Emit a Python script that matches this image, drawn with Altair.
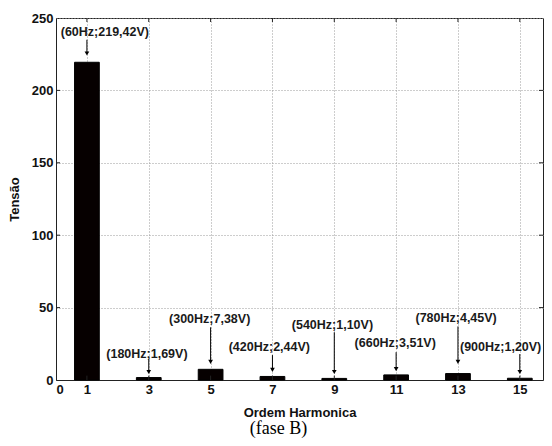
import altair as alt
import pandas as pd

harmonics = [1, 3, 5, 7, 9, 11, 13, 15]
freqs = [60, 180, 300, 420, 540, 660, 780, 900]
volts = [219.42, 1.69, 7.38, 2.44, 1.10, 3.51, 4.45, 1.20]

# annotation layout (data units)
label_x = [1.58, 2.94, 4.97, 6.9, 8.94, 10.97, 12.94, 14.38]
label_y = [240.4, 18.0, 41.9, 22.7, 38.1, 25.4, 42.6, 23.0]
arrow_top = [235, 14.4, 36.4, 17.2, 33.0, 19.2, 37.0, 17.9]
arrow_tip = [225.5, 5.5, 12.5, 7.0, 5.5, 7.5, 12.5, 5.5]

x_ticks = [0, 1, 3, 5, 7, 9, 11, 13, 15]
y_ticks = [0, 50, 100, 150, 200, 250]

labels = [f"({f}Hz;{v:.2f}V)".replace(".", ",") for f, v in zip(freqs, volts)]
df = pd.DataFrame(dict(h=harmonics, v=volts, label=labels, lx=label_x,
                       ly=label_y, at=arrow_top, tip=arrow_tip))
xt = pd.DataFrame(dict(t=x_ticks[1:]))
yt = pd.DataFrame(dict(t=y_ticks[1:-1]))

FONT = "Liberation Sans"
xs = alt.Scale(domain=[0, 15.75], nice=False, zero=False)
ys = alt.Scale(domain=[0, 250], nice=False)

grid_kw = dict(grid=True, gridColor="#9a9a9a", gridDash=[1, 2], gridWidth=1,
               tickSize=0, domainColor="#222", labelFont=FONT,
               labelFontWeight="bold", labelFontSize=13, labelColor="#111",
               titleFont=FONT, titleFontWeight="bold", titleFontSize=13,
               titleColor="#111")

base = alt.Chart(df)
bars = base.transform_calculate(x0="datum.h - 0.4", x1="datum.h + 0.4").mark_bar(
    color="#060000", stroke="#000", strokeWidth=1
).encode(
    x=alt.X("x0:Q", scale=xs,
            axis=alt.Axis(values=x_ticks, title="Ordem Harmonica", labelPadding=3,
                          titlePadding=10, **grid_kw)),
    x2="x1:Q",
    y=alt.Y("v:Q", scale=ys,
            axis=alt.Axis(values=y_ticks, title="Tensão", labelPadding=3,
                          titlePadding=10, **grid_kw)),
    y2=alt.datum(0),
)

arrows = base.mark_rule(color="#000", strokeWidth=1).encode(
    x="h:Q", y="at:Q", y2="tip:Q")
heads = base.mark_point(shape="triangle-down", filled=True, color="#000",
                        size=22, opacity=1).encode(x="h:Q", y="tip:Q")
texts = base.mark_text(font=FONT, fontWeight="bold", fontSize=12.5,
                       color="#1a1a1a").encode(x="lx:Q", y="ly:Q", text="label:N")

tk = dict(color="#222", strokeWidth=1)
xb = alt.Chart(xt).mark_rule(**tk).encode(
    x="t:Q", y=alt.value(0), y2=alt.value(4))
xbb = alt.Chart(xt).mark_rule(**tk).encode(
    x="t:Q", y=alt.Y("z:Q", scale=ys), y2=alt.datum(3.0)
).transform_calculate(z="0")
yl = alt.Chart(yt).mark_rule(**tk).encode(
    y="t:Q", x=alt.X("z:Q", scale=xs), x2=alt.datum(0.13)
).transform_calculate(z="0")
yr = alt.Chart(yt).mark_rule(**tk).encode(
    y="t:Q", x=alt.X("z:Q", scale=xs), x2=alt.datum(15.62)
).transform_calculate(z="15.75")

chart = alt.layer(bars, arrows, heads, texts, xb, xbb, yl, yr).properties(
    width=536, height=430,
    autosize=alt.AutoSizeParams(type="fit", contains="padding"),
    padding={"left": 0, "top": 4, "right": 0, "bottom": 0},
    title=alt.TitleParams("(fase B)", orient="bottom", font="Liberation Serif",
                          fontSize=18, fontWeight="normal", color="#000",
                          dx=-21, offset=1),
).configure_view(stroke="#222", strokeWidth=1)

chart.save("out.html", embed_options={"renderer": "svg", "actions": False})
